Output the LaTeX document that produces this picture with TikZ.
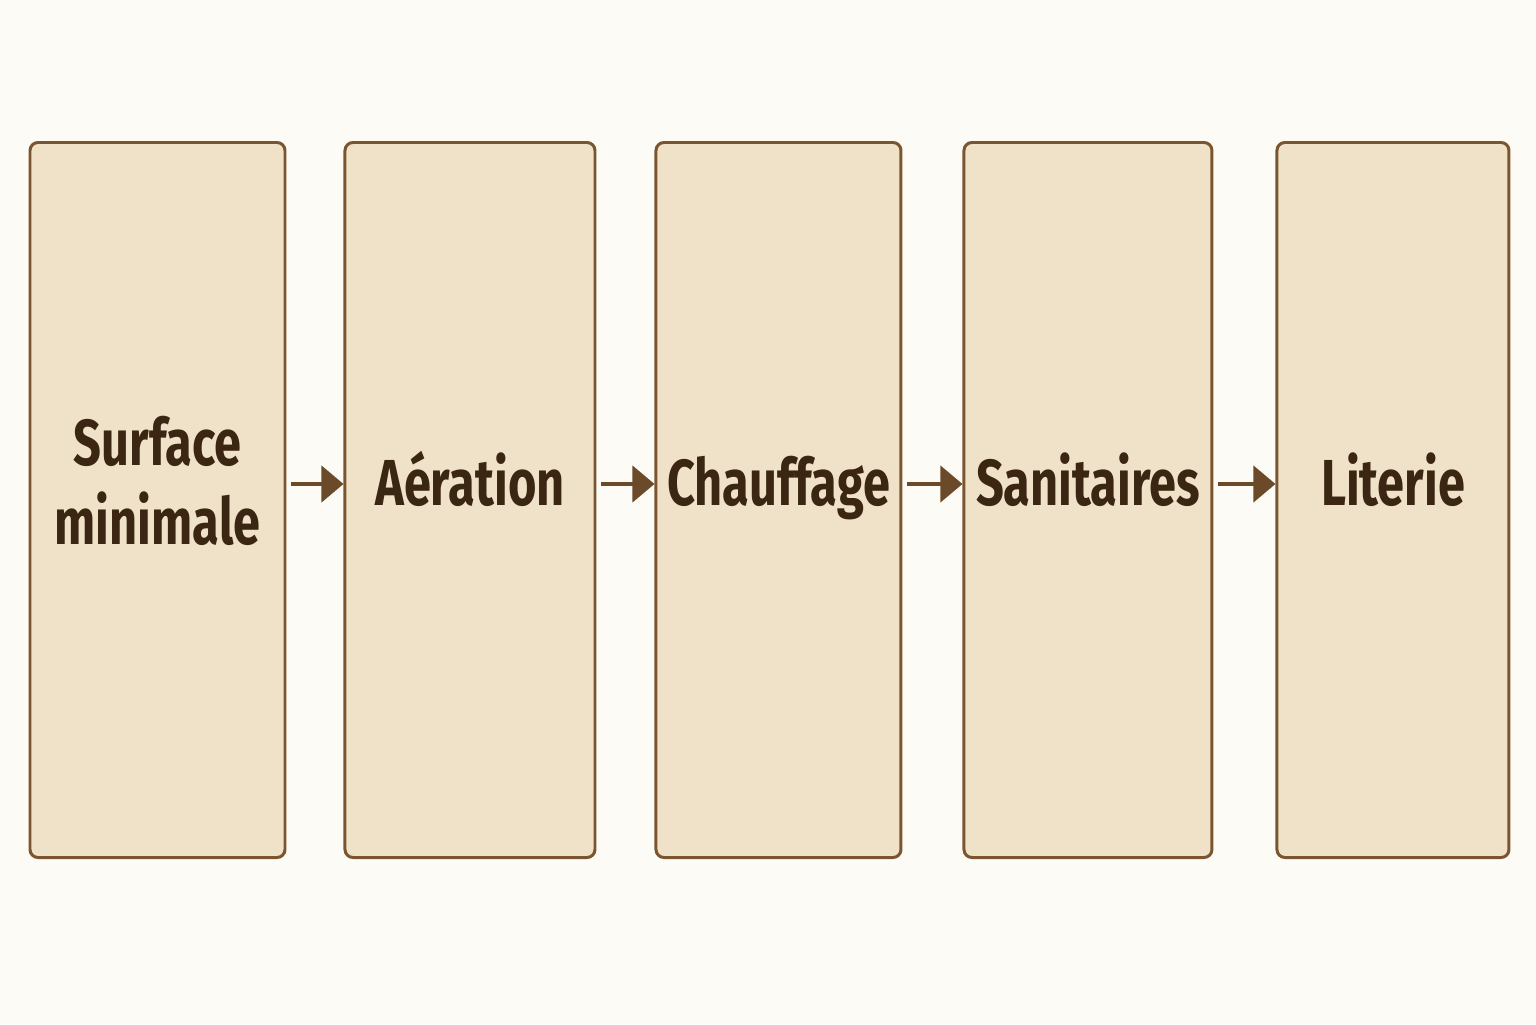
\documentclass[tikz,border=0pt]{standalone}
\usepackage{fontspec}
\setmainfont{Fira Sans}[FakeStretch=0.75]
\usetikzlibrary{positioning,arrows.meta}
\definecolor{pagebg}{HTML}{FDFBF5}
\definecolor{boxfill}{HTML}{F0E2C8}
\definecolor{boxline}{HTML}{7A5530}
\definecolor{arrowcol}{HTML}{6B4A2A}
\definecolor{textcol}{HTML}{3A2612}

\begin{document}
\begin{tikzpicture}
    \tikzstyle{every node}=[minimum height=14.3cm]
    \tikzstyle{stepbox}=[draw=boxline,fill=boxfill,line width=1.7pt,rounded corners=0.16cm,inner sep=0pt]
    \tikzstyle{steplabel}=[text=textcol,font=\bfseries\fontsize{37}{40}\selectfont,align=center,minimum height=0pt]
    \tikzstyle{flow}=[draw=arrowcol,line width=2.3pt,-{Triangle[length=0.44cm,width=0.72cm]}]

    % page
    \fill[pagebg] (0,0) rectangle (30.72,20.48);

    % surface
    \node[stepbox,minimum width=5.1cm] (surface) at (3.15,10.48) {};
    \node[steplabel] at ([yshift=0.38cm]surface.center) {Surface\\[0.16cm]minimale};

    % aeration
    \node[stepbox,minimum width=5.0cm,right=1.14cm of surface] (aeration) {};
    \node[steplabel,anchor=base] at ([yshift=-0.1cm]aeration.center) {Aération};
    \draw[flow] ([xshift=0.1cm,yshift=0.32cm]surface.east) -- ([yshift=0.32cm]aeration.west);

    % chauffage
    \node[stepbox,minimum width=4.9cm,right=1.16cm of aeration] (chauffage) {};
    \node[steplabel,anchor=base] at ([yshift=-0.1cm]chauffage.center) {Chauffage};
    \draw[flow] ([xshift=0.1cm,yshift=0.32cm]aeration.east) -- ([yshift=0.32cm]chauffage.west);

    % sanitaires
    \node[stepbox,minimum width=4.96cm,right=1.2cm of chauffage] (sanitaires) {};
    \node[steplabel,anchor=base] at ([yshift=-0.1cm]sanitaires.center) {Sanitaires};
    \draw[flow] ([xshift=0.1cm,yshift=0.32cm]chauffage.east) -- ([yshift=0.32cm]sanitaires.west);

    % literie
    \node[stepbox,minimum width=4.64cm,right=1.24cm of sanitaires] (literie) {};
    \node[steplabel,anchor=base] at ([yshift=-0.1cm]literie.center) {Literie};
    \draw[flow] ([xshift=0.1cm,yshift=0.32cm]sanitaires.east) -- ([yshift=0.32cm]literie.west);

\end{tikzpicture}
\end{document}
